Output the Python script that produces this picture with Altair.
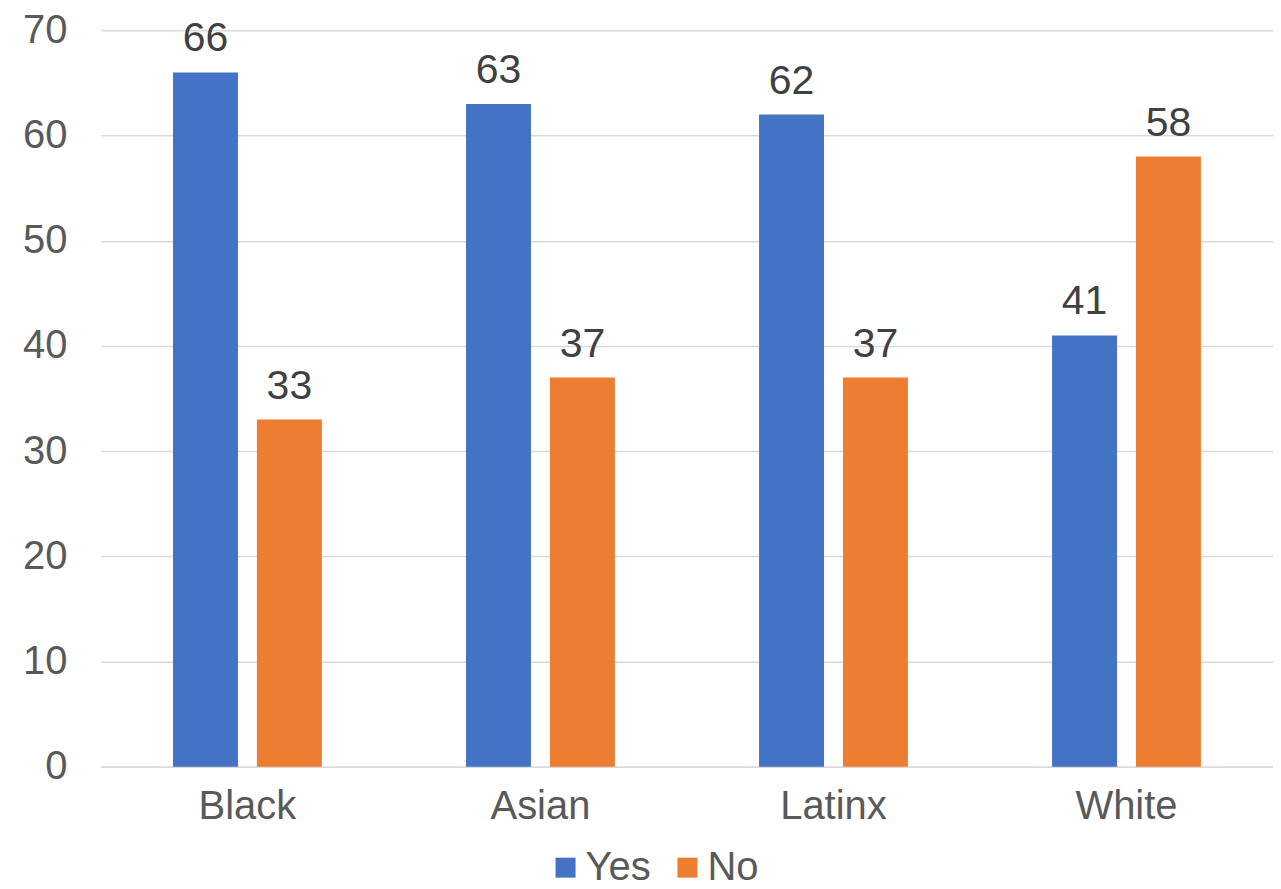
import altair as alt
import pandas as pd

groups = ["Black", "Asian", "Latinx", "White"]
yes_vals = [66, 63, 62, 41]
no_vals = [33, 37, 37, 58]
series = ["Yes", "No"]
colors = ["#4472C4", "#ED7D31"]

rows = []
for g, y, n in zip(groups, yes_vals, no_vals):
    rows.append({"group": g, "series": "Yes", "value": y})
    rows.append({"group": g, "series": "No", "value": n})
df = pd.DataFrame(rows)

FONT = "Liberation Sans"

x = alt.X("group:N", sort=groups, title=None,
          scale=alt.Scale(paddingInner=0.492, paddingOuter=0.246),
          axis=alt.Axis(labelAngle=0, labelFontSize=40, labelColor="#595959",
                        labelFont=FONT, labelPadding=20, ticks=False,
                        domain=True, domainColor="#d9d9d9", domainWidth=1.5))
xo = alt.XOffset("series:N", sort=series,
                 scale=alt.Scale(paddingInner=0.226, paddingOuter=0))
y = alt.Y("value:Q", title=None,
          scale=alt.Scale(domain=[0, 70], nice=False),
          axis=alt.Axis(values=list(range(0, 71, 10)), labelFontSize=40,
                        labelColor="#595959", labelFont=FONT, labelPadding=34,
                        ticks=False, domain=False, gridColor="#d9d9d9",
                        gridWidth=1.5))

bars = alt.Chart(df).mark_bar().encode(
    x=x, xOffset=xo, y=y,
    color=alt.Color("series:N", sort=series,
                    scale=alt.Scale(domain=series, range=colors),
                    legend=alt.Legend(title=None, orient="none", direction="horizontal",
                                      legendX=445, legendY=818,
                                      symbolType="square", symbolSize=400,
                                      symbolStrokeWidth=0,
                                      labelFontSize=40, labelColor="#595959",
                                      labelFont=FONT, columnPadding=16,
                                      labelOffset=0)),
)

labels = alt.Chart(df).mark_text(
    fontSize=41, font=FONT, color="#404040", baseline="alphabetic", dy=-21
).encode(x=x, xOffset=xo, y=y, text=alt.Text("value:Q"))

chart = (bars + labels).properties(
    width=1173, height=737,
    padding={"left": 93, "top": 22, "right": 0, "bottom": 122},
    autosize=alt.AutoSizeParams(type="none"),
).configure_view(stroke=None)

chart.save("out.html", embed_options={"renderer": "svg", "actions": False})
